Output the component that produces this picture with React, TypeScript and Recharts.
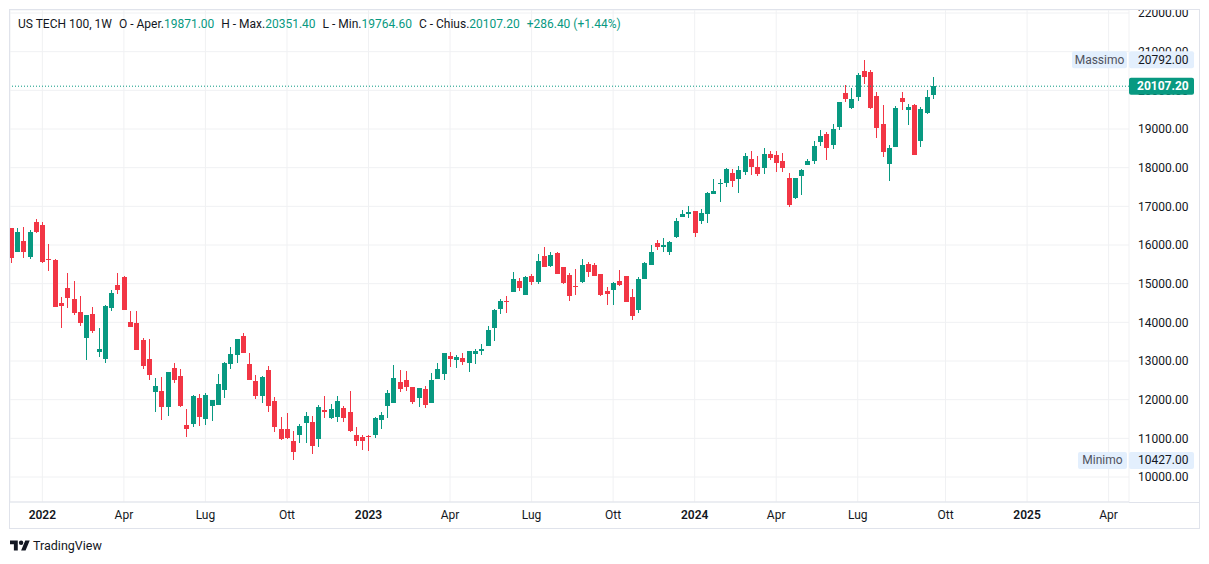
import React from 'react';
import { ComposedChart, Bar, XAxis, YAxis, CartesianGrid, ReferenceLine } from 'recharts';

// ---- weekly OHLC (bar index 0 = first visible week) ----
const opens = [
  16432, 15828, 16104, 15699, 16595, 16518, 15638, 15613, 14501, 14888,
  14604, 14268, 13604, 14216, 13242, 13061, 14380, 14966, 15173, 14009,
  13983, 13544, 13052, 12199, 12225, 11820, 12820, 12613, 11337, 11380,
  12044, 11501, 11846, 11872, 12259, 12932, 13165, 13647, 12932, 12484,
  12104, 12768, 11966, 11251, 11242, 10932, 11096, 11406, 11423, 10975,
  11742, 11527, 11561, 11786, 11682, 11087, 11036, 11061, 11087, 11475,
  11837, 11923, 12458, 12510, 12329, 12044, 12277, 11915, 12535, 12665,
  13130, 13027, 13078, 12949, 13182, 13260, 13389, 13854, 14346, 14553,
  14785, 15070, 14708, 15199, 15044, 15716, 15458, 15794, 15432, 15225,
  14941, 15044, 15509, 15484, 15251, 14811, 14837, 15070, 15199, 14656,
  14320, 15122, 15484, 16053, 15949, 15819, 16207, 16724, 16802, 16880,
  16621, 16802, 17319, 17578, 17604, 17862, 17707, 17888, 18224, 18017,
  17992, 18354, 18328, 18173, 17733, 17216, 17785, 18069, 18173, 18664,
  18871, 18587, 19052, 19931, 19543, 19828, 20500, 20474, 19854, 19130,
  18095, 18535, 19802, 19492, 19621, 18690, 19414, 19871,
];
const highs = [
  16450, 16432, 16466, 16388, 16673, 16595, 16026, 15630, 14656, 15276,
  15070, 14682, 14200, 14397, 13854, 14449, 14837, 15276, 15199, 14294,
  14294, 13595, 13570, 12561, 12596, 12720, 12949, 12794, 11759, 12113,
  12156, 12173, 12000, 12665, 12975, 13363, 13580, 13725, 13216, 12639,
  12622, 12871, 12070, 11553, 11656, 11191, 11372, 11682, 11587, 11854,
  12096, 11889, 12096, 11837, 12225, 11294, 11087, 11087, 11553, 11682,
  12251, 12897, 12768, 12742, 12340, 12310, 12355, 12691, 12949, 13215,
  13234, 13156, 13208, 13270, 13311, 13441, 13906, 14346, 14604, 14682,
  15303, 15148, 15199, 15251, 15768, 15949, 15820, 15820, 15440, 15277,
  15380, 15639, 15561, 15535, 15260, 14915, 15044, 15354, 15205, 14863,
  15173, 15561, 16001, 16130, 16181, 16104, 16699, 16906, 17009, 16890,
  16931, 17371, 17707, 17707, 17992, 17966, 18043, 18380, 18431, 18302,
  18509, 18431, 18431, 18380, 17862, 17740, 17966, 18224, 18690, 18975,
  18923, 19130, 19710, 20138, 20061, 20449, 20792, 20526, 19957, 19621,
  18587, 19595, 19957, 19647, 19647, 19569, 20009, 20351.4,
];
const lows = [
  15544, 15810, 15673, 15647, 16320, 15544, 15337, 14390, 13863, 14380,
  14199, 13915, 13026, 13734, 13113, 12958, 14302, 14742, 14320, 13880,
  13280, 12794, 12510, 11682, 11475, 11578, 12423, 11803, 11044, 11303,
  11320, 11354, 11458, 11860, 12044, 12802, 12958, 13205, 12500, 12018,
  11923, 11691, 11173, 10965, 10984, 10427, 10889, 10889, 10604, 10785,
  11527, 11501, 11432, 11432, 11173, 10803, 10690, 10680, 11018, 11243,
  11527, 11910, 12199, 12225, 11889, 11811, 11786, 11905, 12525, 12510,
  12846, 12820, 12897, 12716, 12923, 13156, 13380, 13518, 14225, 14242,
  14775, 14811, 14700, 14966, 14992, 15425, 15432, 15245, 14992, 14553,
  14708, 15018, 15173, 15190, 14682, 14449, 14449, 14941, 14520, 14061,
  14242, 15115, 15478, 15872, 15819, 15742, 16181, 16715, 16699, 16207,
  16543, 16569, 17310, 17112, 17500, 17500, 17345, 17811, 17811, 17785,
  17836, 18199, 17888, 17888, 16983, 17190, 17293, 18060, 18095, 18561,
  18199, 18483, 18975, 19699, 19518, 19724, 20164, 19518, 18768, 18276,
  17656, 18525, 19492, 19104, 18320, 18535, 19388, 19764.6,
];
const closes = [
  15673, 16337, 15828, 16337, 16337, 15570, 15613, 14406, 14432, 14638,
  14251, 13992, 14190, 13785, 13311, 14423, 14759, 14837, 14328, 13889,
  13294, 12880, 12648, 12354, 11820, 12708, 12509, 11837, 11251, 12096,
  11553, 12113, 11992, 12406, 12958, 13182, 13570, 13216, 12509, 12104,
  12587, 11846, 11294, 10975, 11018, 10656, 11311, 11578, 10811, 11811,
  11673, 11759, 11966, 11536, 11199, 10941, 10941, 11036, 11527, 11604,
  12173, 12561, 12277, 12329, 11941, 12303, 11863, 12510, 12794, 13208,
  13053, 13104, 12975, 13260, 13260, 13311, 13803, 14320, 14553, 14527,
  15122, 14889, 15173, 15044, 15587, 15432, 15742, 15251, 15018, 14682,
  14915, 15484, 15303, 15199, 14708, 14734, 15018, 14966, 14527, 14165,
  15122, 15535, 15820, 15949, 16000, 16078, 16621, 16802, 16854, 16311,
  16828, 17345, 17397, 17604, 17966, 17655, 17940, 18302, 18017, 17836,
  18354, 18250, 18121, 17992, 17035, 17733, 17940, 18173, 18561, 18819,
  18509, 19000, 19699, 19776, 19776, 20397, 20345, 19543, 19026, 18406,
  18509, 19543, 19699, 19569, 18328, 19518, 19820.8, 20107.2,
];

// ---- axis ticks ----
const xTickIndex = [5, 18, 31, 44, 57, 70, 83, 96, 109, 122, 135, 149, 162, 175];
const xTickLabels = ['2022', 'Apr', 'Lug', 'Ott', '2023', 'Apr', 'Lug', 'Ott', '2024', 'Apr', 'Lug', 'Ott', '2025', 'Apr'];
const yTicks = [10000, 11000, 12000, 13000, 14000, 15000, 16000, 17000, 18000, 19000, 20000, 21000, 22000];

// ---- legend / labels ----
const symbolName = 'US TECH 100, 1W';
const lastOpen = 19871.0;
const lastHigh = 20351.4;
const lastLow = 19764.6;
const lastClose = 20107.2;
const lastChange = 286.4;
const lastChangePct = 1.44;
const periodHigh = 20792;
const periodLow = 10427;

const GREEN = '#089981';
const RED = '#F23645';
const TEXT = '#131722';
const GRID = '#f0f1f3';
const BORDER = '#e0e3eb';
const LABEL_BG = '#e3effd';

const X_DOMAIN: [number, number] = [-0.159, 178.25];
const Y_DOMAIN: [number, number] = [9353.5, 22077.6];
const MARGIN = { top: 10, right: 10, bottom: 36, left: 10 };

const data = opens.map((o, i) => ({
  i,
  o,
  h: highs[i],
  l: lows[i],
  c: closes[i],
  range: [lows[i], highs[i]],
}));

const Candle = (props: any) => {
  const { x, y, width, height, payload } = props;
  if (!payload || x == null || y == null) return null;
  const { o, h, l, c } = payload;
  const color = c >= o ? GREEN : RED;
  const top = Math.min(y, y + height);
  const bottom = Math.max(y, y + height);
  const span = h - l || 1;
  const toY = (v: number) => top + ((h - v) / span) * (bottom - top);
  const cx = Math.round(x + (width || 0) / 2 - 0.5);
  const bTop = Math.round(toY(Math.max(o, c)));
  const bBot = Math.round(toY(Math.min(o, c)));
  return (
    <g>
      <rect x={cx} y={Math.round(top)} width={1} height={Math.max(1, Math.round(bottom) - Math.round(top))} fill={color} />
      <rect x={cx - 2} y={bTop} width={5} height={Math.max(1, bBot - bTop)} fill={color} />
    </g>
  );
};

const XTick = (props: any) => {
  const { x, y, payload } = props;
  const idx = xTickIndex.indexOf(payload.value);
  const label = idx >= 0 ? xTickLabels[idx] : '';
  const isYear = /^\d{4}$/.test(label);
  return (
    <text x={x} y={y} dy="0.71em" textAnchor="middle" fontSize={12} fill={TEXT} fontWeight={isYear ? 600 : 400}>
      {label}
    </text>
  );
};

const SideLabel = (props: any) => {
  const { viewBox, name, value, nameWidth } = props;
  if (!viewBox) return null;
  const right = viewBox.x + viewBox.width;
  const y = viewBox.y;
  return (
    <g>
      <rect x={right - 2 - nameWidth} y={y - 8.5} width={nameWidth} height={17} rx={2} fill={LABEL_BG} />
      <text x={right - 2 - nameWidth / 2} y={y} textAnchor="middle" dominantBaseline="central" fontSize={12} fill="#50535e">
        {name}
      </text>
      <rect x={right} y={y - 8.5} width={65} height={17} rx={2} fill={LABEL_BG} />
      <text x={right + 9} y={y} dominantBaseline="central" fontSize={12} fill={TEXT}>
        {value}
      </text>
    </g>
  );
};

const PriceLabel = (props: any) => {
  const { viewBox } = props;
  if (!viewBox) return null;
  const right = viewBox.x + viewBox.width;
  const y = viewBox.y;
  return (
    <g>
      <rect x={right} y={y - 8.5} width={65} height={17} rx={2} fill={GREEN} />
      <text x={right + 8} y={y} dominantBaseline="central" fontSize={12} fontWeight={700} fill="#ffffff">
        {lastClose.toFixed(2)}
      </text>
    </g>
  );
};

const g = (s: string) => <span style={{ color: GREEN }}>{s}</span>;

export default function App() {
  return (
    <div
      style={{
        position: 'absolute',
        left: 0,
        top: 0,
        width: 1209,
        height: 564,
        background: '#ffffff',
        fontFamily: 'Roboto, "Noto Sans", sans-serif',
        overflow: 'hidden',
      }}
    >
      {/* main chart: grid, axes, candles, price line */}
      <div style={{ position: 'absolute', left: 0, top: 0 }}>
        <ComposedChart width={1209} height={564} data={data} margin={MARGIN}>
          <CartesianGrid stroke={GRID} strokeWidth={1} />
          <XAxis
            dataKey="i"
            type="number"
            domain={X_DOMAIN}
            allowDataOverflow
            ticks={xTickIndex}
            interval={0}
            tick={<XTick />}
            tickLine={false}
            axisLine={{ stroke: BORDER }}
            height={26}
          />
          <YAxis
            orientation="right"
            type="number"
            domain={Y_DOMAIN}
            allowDataOverflow
            ticks={yTicks}
            interval={0}
            tickFormatter={(v: number) => v.toFixed(2)}
            tick={{ fontSize: 12, fill: TEXT }}
            tickLine={false}
            tickMargin={3}
            axisLine={false}
            width={70}
          />
          <Bar dataKey="range" barSize={5} shape={<Candle />} isAnimationActive={false} />
          <ReferenceLine y={lastClose} stroke={GREEN} strokeDasharray="1 2" />
        </ComposedChart>
      </div>

      {/* top mask (clips the top price label like the reference) */}
      <div style={{ position: 'absolute', left: 0, top: 0, width: 1209, height: 10, background: '#fff' }} />

      {/* overlay chart: same scales, only the price-scale labels, drawn above the axis text */}
      <div style={{ position: 'absolute', left: 0, top: 0, pointerEvents: 'none' }}>
        <ComposedChart width={1209} height={564} data={data} margin={MARGIN}>
          <XAxis
            dataKey="i"
            type="number"
            domain={X_DOMAIN}
            allowDataOverflow
            tick={false}
            tickLine={false}
            axisLine={false}
            height={26}
          />
          <YAxis
            orientation="right"
            type="number"
            domain={Y_DOMAIN}
            allowDataOverflow
            tick={false}
            tickLine={false}
            axisLine={false}
            width={70}
          />
          <ReferenceLine y={lastClose} stroke="none" strokeOpacity={0} label={<PriceLabel />} />
          <ReferenceLine
            y={periodHigh}
            stroke="none"
            strokeOpacity={0}
            label={<SideLabel name="Massimo" value={periodHigh.toFixed(2)} nameWidth={55} />}
          />
          <ReferenceLine
            y={periodLow}
            stroke="none"
            strokeOpacity={0}
            label={<SideLabel name="Minimo" value={periodLow.toFixed(2)} nameWidth={49} />}
          />
        </ComposedChart>
      </div>

      {/* frame */}
      <div
        style={{
          position: 'absolute',
          left: 9,
          top: 9,
          width: 1189,
          height: 518,
          border: `1px solid ${BORDER}`,
          pointerEvents: 'none',
        }}
      />
      <div style={{ position: 'absolute', left: 1129, top: 502, width: 70, height: 1, background: BORDER }} />

      {/* legend */}
      <div
        style={{
          position: 'absolute',
          left: 18,
          top: 15,
          fontSize: 12,
          lineHeight: '18px',
          color: TEXT,
          whiteSpace: 'pre',
        }}
      >
        <span>{symbolName}</span>
        <span style={{ marginLeft: 7 }}>O - Aper.{g(lastOpen.toFixed(2))}</span>
        <span style={{ marginLeft: 7 }}>H - Max.{g(lastHigh.toFixed(2))}</span>
        <span style={{ marginLeft: 7 }}>L - Min.{g(lastLow.toFixed(2))}</span>
        <span style={{ marginLeft: 7 }}>C - Chius.{g(lastClose.toFixed(2))}</span>
        <span style={{ marginLeft: 7 }}>
          {g(`+${lastChange.toFixed(2)} (+${lastChangePct.toFixed(2)}%)`)}
        </span>
      </div>

      {/* TradingView logo */}
      <div style={{ position: 'absolute', left: 10, top: 538, display: 'flex', alignItems: 'center' }}>
        <svg width={20} height={16} viewBox="0 0 36 28">
          <path d="M14 22H7V11H0V4h14v18zM28 22h-8l7.5-18h8L28 22z" fill={TEXT} />
          <circle cx={20} cy={8} r={4} fill={TEXT} />
        </svg>
        <span style={{ marginLeft: 3, fontSize: 12.5, color: TEXT, lineHeight: '16px' }}>TradingView</span>
      </div>
    </div>
  );
}
